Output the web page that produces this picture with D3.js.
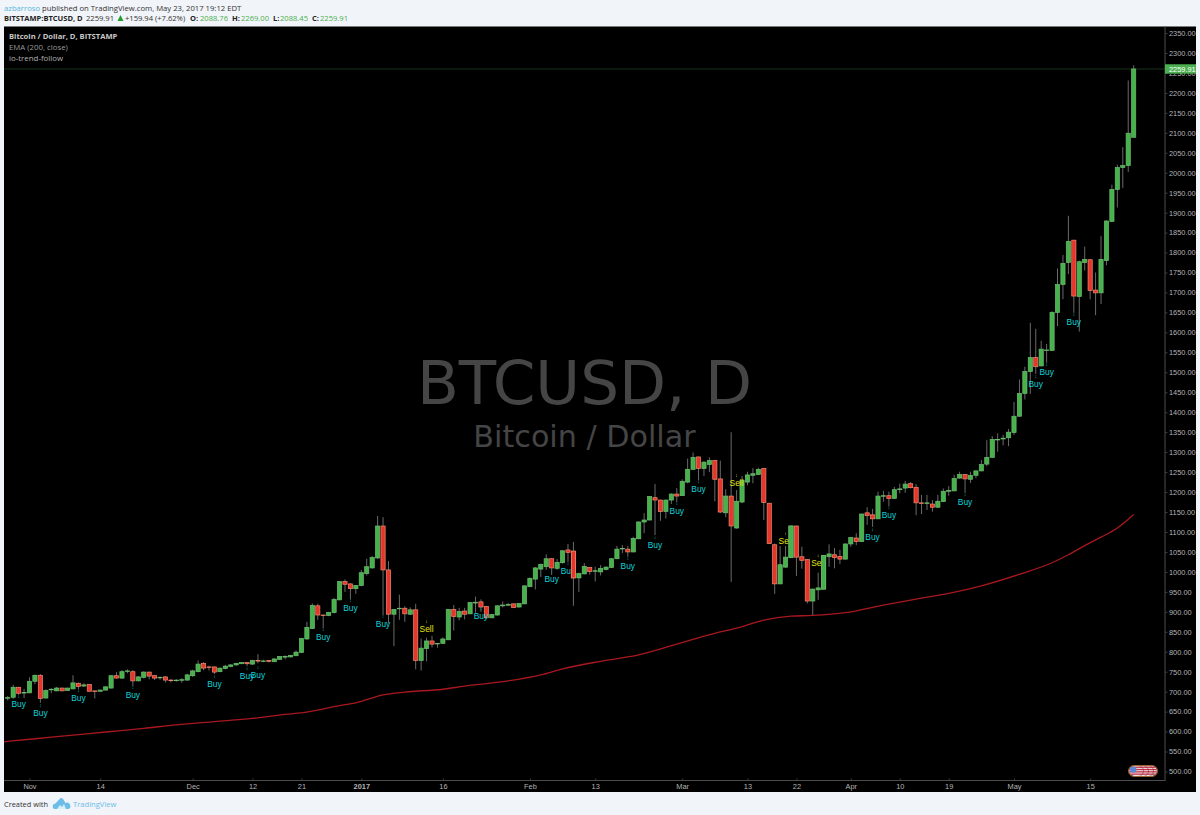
<!DOCTYPE html>
<html><head><meta charset="utf-8">
<script src="https://d3js.org/d3.v7.min.js"></script>
<style>
html,body{margin:0;padding:0;background:#f1f4f8;overflow:hidden}
svg{display:block}
</style></head><body>
<svg id="c" width="1200" height="815"></svg>
<script>
// Day offset of the first candle relative to Nov 1, 2016
const firstDay = -4;
const openP = [684,686,711,697,697,726,741,684,705,702,709,703,707,721,714,718,702,701,704,709,740,734,751,750,727,736,749,740,735,737,729,729,729,729,740,750,771,762,762,750,758,763,767,770,773,769,778,777,778,775,781,787,787,790,798,832,858,915,892,891,898,930,976,970,958,966,996,1010,1035,1115,1005,894,908,909,894,905,778,808,827,820,821,830,906,887,902,895,922,925,913,885,892,915,917,920,912,920,963,982,1007,1013,1033,1009,1023,1055,1052,985,995,1011,1002,1000,1006,1011,1033,1058,1057,1050,1083,1125,1130,1186,1180,1151,1180,1195,1191,1225,1257,1288,1259,1269,1279,1233,1148,1190,1110,1175,1225,1242,1244,1259,1172,1068,970,1012,1036,1115,1038,1031,927,955,957,1038,1043,1039,1032,1070,1085,1076,1148,1143,1133,1190,1191,1184,1206,1210,1221,1212,1173,1171,1170,1162,1176,1202,1203,1235,1244,1232,1242,1253,1270,1287,1331,1333,1336,1349,1390,1447,1502,1537,1516,1555,1555,1650,1720,1775,1831,1690,1775,1782,1706,1699,1780,1878,1958,2013,2018,2088.76];
const highP = [689,717,712,707,736,743,744,706,709,712,710,710,741,723,721,719,702,705,714,741,749,754,756,754,739,751,750,742,738,739,732,731,734,745,755,778,774,765,763,760,767,769,772,774,774,780,794,780,779,784,789,791,792,803,835,875,921,920,893,900,935,977,981,971,967,1005,1033,1040,1140,1137,1027,907,943,914,911,920,833,835,840,822,836,907,917,910,910,925,938,931,915,895,917,926,922,921,922,966,986,1012,1021,1044,1034,1032,1054,1070,1075,998,1022,1012,1013,1017,1014,1035,1065,1067,1065,1088,1127,1147,1190,1220,1181,1181,1197,1210,1232,1284,1299,1289,1277,1287,1280,1279,1207,1350,1205,1240,1251,1260,1261,1260,1173,1071,1065,1065,1116,1116,1063,1032,958,998,1042,1069,1060,1055,1071,1088,1097,1146,1162,1158,1201,1203,1201,1213,1221,1228,1225,1220,1193,1193,1180,1193,1209,1215,1243,1251,1245,1251,1255,1280,1330,1340,1347,1343,1358,1426,1482,1514,1624,1609,1579,1571,1653,1760,1794,1892,1832,1780,1815,1783,1750,1841,1881,1970,2020,2064,2231,2269];
const lowP = [678,682,692,684,696,719,672,683,696,701,701,702,706,706,712,700,683,700,703,708,733,732,746,714,726,733,731,729,730,723,723,725,722,727,737,749,754,753,744,749,756,761,765,769,764,768,771,774,773,774,780,781,786,789,797,830,857,880,859,889,896,929,950,932,945,964,991,1008,1032,892,871,814,880,875,892,756,753,776,811,810,820,829,853,879,881,894,898,900,884,884,890,911,915,910,911,919,962,956,987,1005,992,1005,1021,1025,915,950,994,993,976,991,1004,1010,1032,1047,1038,1049,1082,1097,1129,1092,1128,1134,1170,1175,1190,1222,1256,1230,1240,1250,1177,1147,1137,975,1108,1172,1217,1222,1243,1130,1070,945,969,1010,1035,990,1008,921,892,930,956,1013,1009,1020,1031,1063,1067,1075,1118,1113,1132,1176,1165,1183,1197,1198,1209,1142,1145,1155,1151,1161,1175,1191,1202,1234,1198,1223,1235,1252,1265,1286,1301,1317,1315,1343,1389,1432,1446,1496,1515,1524,1554,1616,1683,1746,1649,1602,1755,1683,1643,1671,1768,1877,1913,1962,2002,2088.45];
const closeP = [685,711,696,698,726,741,683,703,706,709,702,709,722,713,717,701,701,704,712,740,734,750,752,727,737,749,739,734,736,729,728,729,730,742,752,769,759,761,749,759,764,767,771,773,770,778,777,777,776,782,788,788,791,799,833,861,916,892,891,898,931,976,969,958,966,998,1013,1036,1115,1005,894,906,909,895,905,778,809,827,819,821,832,906,888,901,894,923,924,912,885,893,915,917,918,911,921,965,984,1010,1019,1033,1010,1024,1053,1049,985,996,1014,1001,1003,1009,1012,1033,1057,1059,1050,1084,1125,1130,1189,1180,1151,1180,1195,1190,1227,1257,1287,1259,1275,1279,1232,1150,1190,1115,1177,1229,1243,1246,1257,1174,1071,970,1018,1037,1115,1037,1029,927,957,960,1041,1045,1036,1032,1070,1086,1076,1145,1141,1133,1190,1191,1184,1206,1208,1220,1211,1173,1172,1173,1162,1177,1202,1204,1234,1244,1233,1242,1253,1269,1287,1332,1332,1335,1350,1390,1447,1502,1537,1514,1558,1556,1650,1720,1773,1828,1691,1777,1783,1705,1699,1783,1879,1958,2013,2018,2099,2259.91];

const emaDays = [-5,1,8,14,21,27,34,41,47,51,57,60,65,69,76,80,87,94,98,105,112,119,126,130,135,140,144,150,157,163,169,175,182,188,191,194,197,200,203];
const emaValues = [574,582,591,599,608,617,625,633,643,649,665,672,692,699,706,714,725,742,757,776,792,819,846,859,879,889,891,898,917,932,946,965,994,1023,1043,1066,1087,1110,1144];

const signalDays = [-2,2,9,19,34,40,42,54,59,65,73,83,96,99,110,115,119,123,130,139,145,155,158,172,185,187,192];
const signalPrices = [669,647,684,692,719,739,742,837,910,870,857,890,982,1002,1015,1067,1153,1208,1223,1077,1022,1087,1143,1175,1471,1501,1626];
const signalTexts = ["Buy","Buy","Buy","Buy","Buy","Buy","Buy","Buy","Buy","Buy","Sell","Buy","Buy","Buy","Buy","Buy","Buy","Buy","Sell","Sell","Sell","Buy","Buy","Buy","Buy","Buy","Buy"];

const priceTicks = d3.range(500, 2351, 50);
const timeTickDays = [0,13,30,41,50,61,76,92,104,120,132,141,151,160,169,181,195];
const timeTickLabels = ["Nov","14","Dec","12","21","2017","16","Feb","13","Mar","13","22","Apr","10","19","May","15"];
const lastPrice = 2259.91;

const svg = d3.select("#c");
const plot = {l:4, r:1165, t:26.5, b:780.5, right:1196, bottom:792};
const x = d3.scaleLinear().domain([0,181]).range([29.5,1014]);
const y = d3.scaleLinear().domain([500,2350]).range([771.5,33]);
const sans = "'Open Sans',sans-serif", arial = "'Liberation Sans',sans-serif";

svg.append("rect").attr("width",1200).attr("height",815).attr("fill","#f1f4f8");
svg.append("rect").attr("x",plot.l).attr("y",plot.t).attr("width",plot.right-plot.l).attr("height",plot.bottom-plot.t).attr("fill","#000");
const defs = svg.append("defs");
defs.append("clipPath").attr("id","pc").append("rect")
   .attr("x",plot.l).attr("y",plot.t).attr("width",plot.r-plot.l).attr("height",plot.b-plot.t);

// header
const h1 = svg.append("text").attr("x",4).attr("y",10.5).attr("font-family",sans).attr("font-size",7.7).attr("fill","#333");
h1.append("tspan").attr("fill","#5bb4e0").text("azbarroso");
h1.append("tspan").text(" published on TradingView.com, May 23, 2017 19:12 EDT");
const row2 = [[4,"BITSTAMP:BTCUSD, D",true,"#222",7.5],[86,"2259.91",false,"#333",7.6],[125,"+159.94 (+7.62%)",false,"#333",7.6],
 [190,"O:",true,"#222",7.5],[200,"2088.76",false,"#4caf50",7.6],[232,"H:",true,"#222",7.5],[241,"2269.00",false,"#4caf50",7.6],
 [273,"L:",true,"#222",7.5],[280,"2088.45",false,"#4caf50",7.6],[312,"C:",true,"#222",7.5],[320,"2259.91",false,"#4caf50",7.6]];
svg.append("g").selectAll("text").data(row2).join("text")
  .attr("x",d=>d[0]).attr("y",21).attr("font-family",sans).attr("font-size",d=>d[4])
  .attr("font-weight",d=>d[2]?700:400).attr("fill",d=>d[3]).text(d=>d[1]);
svg.append("path").attr("d","M117.5 21L120.5 15L123.5 21Z").attr("fill","#1f9d2d");

// watermark
svg.append("text").attr("x",584.5).attr("y",404).attr("text-anchor","middle").attr("font-family","'DejaVu Sans',sans-serif")
  .attr("font-size",61.2).attr("fill","#454545").text("BTCUSD, D");
svg.append("text").attr("x",584.5).attr("y",447).attr("text-anchor","middle").attr("font-family","'DejaVu Sans',sans-serif")
  .attr("font-size",30.2).attr("fill","#454545").text("Bitcoin / Dollar");

// legend
svg.append("text").attr("x",9).attr("y",39).attr("font-family",sans).attr("font-size",7.6).attr("font-weight",700).attr("fill","#c8c8c8").text("Bitcoin / Dollar, D, BITSTAMP");
svg.append("text").attr("x",9).attr("y",50).attr("font-family",sans).attr("font-size",7.8).attr("fill","#9a9a9a").text("EMA (200, close)");
svg.append("text").attr("x",9).attr("y",60.5).attr("font-family",sans).attr("font-size",7.9).attr("fill","#b0b0b0").text("io-trend-follow");

// last price line
svg.append("line").attr("x1",plot.l).attr("x2",plot.r).attr("y1",y(lastPrice)).attr("y2",y(lastPrice)).attr("stroke","#1f3f22").attr("stroke-width",0.8);

const g = svg.append("g").attr("clip-path","url(#pc)");

// EMA
const emaLine = d3.line().x((d,i)=>x(emaDays[i])).y(d=>y(d)).curve(d3.curveMonotoneX);
g.append("path").attr("d",emaLine(emaValues)).attr("fill","none").attr("stroke","#a8181f").attr("stroke-width",1.3);

// candles
const candles = openP.map((o,i)=>({day:firstDay+i,o,h:highP[i],l:lowP[i],c:closeP[i]}));
g.append("g").selectAll("line").data(candles).join("line")
  .attr("x1",d=>x(d.day)).attr("x2",d=>x(d.day)).attr("y1",d=>y(d.h)).attr("y2",d=>y(d.l))
  .attr("stroke","#6a6a6a").attr("stroke-width",1);
function bodies(sel){
  sel.attr("x",d=>x(d.day)-2.1).attr("width",4.2)
  .attr("y",d=>y(Math.max(d.o,d.c))).attr("height",d=>Math.max(0.6,Math.abs(y(d.o)-y(d.c))))
  .attr("fill",d=>d.c>=d.o?"#47b14b":"#e6352a")
  .attr("stroke",d=>d.c>=d.o?"#6dbb70":"#ef8a70").attr("stroke-width",0.7);
}
g.append("g").selectAll("rect").data(candles).join("rect").call(bodies);

// signals
const sig = signalDays.map((d,i)=>({day:d,p:signalPrices[i],t:signalTexts[i]}));
const col = t=>t==="Buy"?"#10d2da":"#e6e610";
const sg = g.append("g");
sg.selectAll("line").data(sig).join("line")
  .attr("x1",d=>x(d.day)).attr("x2",d=>x(d.day)).attr("y1",d=>y(d.p)-8.5).attr("y2",d=>y(d.p)-6)
  .attr("stroke",d=>d.t==="Buy"?"#0a8f94":"#9c9c10").attr("stroke-width",0.8).attr("stroke-dasharray","1 0.6");
sg.selectAll("text").data(sig).join("text")
  .attr("x",d=>x(d.day)).attr("y",d=>y(d.p)+3).attr("text-anchor","middle")
  .attr("font-family",arial).attr("font-size",8.4).attr("fill",d=>col(d.t)).text(d=>d.t);
// Labels overlapped by the candle that follows them in the reference
g.append("g").selectAll("rect").data(candles.filter(d=>[100,140,146].includes(d.day))).join("rect").call(bodies);

// axes
const yAxis = d3.axisRight(y).tickValues(priceTicks).tickFormat(d3.format(".2f")).tickSize(2.5).tickPadding(1.5);
const gy = svg.append("g").attr("transform",`translate(${plot.r},0)`).call(yAxis);
const xAxis = d3.axisBottom(x).tickValues(timeTickDays).tickFormat((d,i)=>timeTickLabels[i]).tickSize(1.5).tickPadding(2);
const gx = svg.append("g").attr("transform",`translate(0,${plot.b})`).call(xAxis);
[gy,gx].forEach(a=>{
  a.selectAll("text").attr("font-family",arial).attr("font-size",7.4).attr("fill","#b4b4b4");
  a.selectAll(".tick line").attr("stroke","#666").attr("stroke-width",0.6);
  a.select(".domain").remove();
});
gx.selectAll(".tick line").attr("transform","translate(0,-2)");
gx.selectAll("text").filter((d,i)=>timeTickLabels[i]==="2017").attr("font-weight",700);
svg.append("line").attr("x1",plot.l).attr("x2",plot.r+0.5).attr("y1",plot.b).attr("y2",plot.b).attr("stroke","#4d4d4d").attr("stroke-width",1);
svg.append("line").attr("x1",plot.r).attr("x2",plot.r).attr("y1",plot.t).attr("y2",plot.b).attr("stroke","#4d4d4d").attr("stroke-width",1);

// last price tag
svg.append("rect").attr("x",plot.r).attr("y",y(lastPrice)-4.7).attr("width",31).attr("height",9.4).attr("fill","#4caf50");
svg.append("text").attr("x",1169).attr("y",y(lastPrice)+2.6).attr("font-family",arial).attr("font-size",7.4).attr("fill","#fff").text("2259.91");

// session flag (five overlapping round flags)
const flag = svg.append("g").attr("transform","translate(1128,765)");
defs.append("clipPath").attr("id","fl").append("rect").attr("x",1).attr("y",1).attr("width",28).attr("height",10).attr("rx",5);
const fi = flag.append("g").attr("clip-path","url(#fl)");
fi.append("rect").attr("width",30).attr("height",12).attr("fill","#efe4e6");
[1.6,3.9,6.2,8.5].forEach(v=>fi.append("rect").attr("y",v).attr("width",30).attr("height",1.3).attr("fill","#c43348"));
fi.append("circle").attr("cx",5.2).attr("cy",4.6).attr("r",3.2).attr("fill","#5a86d8");
[10,15,20,25].forEach(v=>fi.append("path").attr("d",`M${v} 0.5A5.5 5.5 0 0 1 ${v} 11.5`).attr("fill","none").attr("stroke","#7a2030").attr("stroke-width",0.5));
flag.append("rect").attr("x",0.5).attr("y",0.5).attr("width",29).attr("height",11).attr("rx",5.5).attr("fill","none").attr("stroke","#a9703a").attr("stroke-width",0.9);

// footer
svg.append("text").attr("x",4).attr("y",807).attr("font-family",sans).attr("font-size",7.4).attr("fill","#333").text("Created with");
svg.append("path").attr("d","M54 809a3 3 0 0 1 1.5-5.5L60 798.5q2-1.5 3.5 1l2 3.5a3.2 3.2 0 0 1 3 6Z").attr("fill","#6cbde8");
svg.append("path").attr("d","M57 809l3-4 2 2 2-3 2 5Z").attr("fill","#d8eefa");
svg.append("text").attr("x",73).attr("y",807).attr("font-family",sans).attr("font-size",7.6).attr("fill","#6cbde8").text("TradingView");
</script>
</body></html>
